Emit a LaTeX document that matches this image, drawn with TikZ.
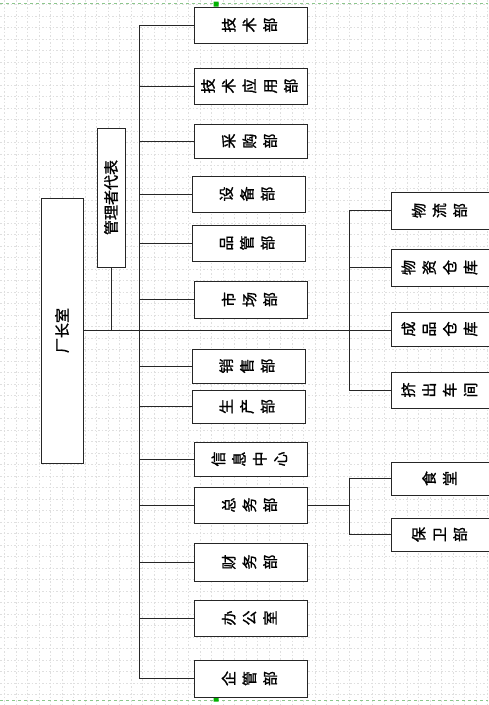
\documentclass[tikz,border=0pt]{standalone}
\usepackage{fontspec}
\newfontfamily\cjk[FakeBold=1.2]{Noto Sans CJK SC}
\usetikzlibrary{positioning}
\newcommand\vchars[1]{\rotatebox{90}{\renewcommand\arraystretch{1.15}\begin{tabular}{@{}c@{}}#1\end{tabular}}}
\newcommand\hchars[1]{\rotatebox{90}{#1}}

\begin{document}
\begin{tikzpicture}[x=1pt,y=1pt,font=\cjk\fontsize{15}{18}\selectfont,
box/.style={draw=black!85,fill=white,line width=0.9pt,inner sep=0pt},
dept/.style={box,minimum width=113,minimum height=#1},
sub/.style={box,minimum width=100,minimum height=#1},
link/.style={line width=0.9pt,black!85},
gridline/.style={gray!25,dash pattern=on 1.5pt off 2pt,line width=0.4pt}]
\useasboundingbox (0,0) rectangle (488,-705);
\fill[white] (0,0) rectangle (488,-705);
% background grid of the drawing sheet
\foreach \g in {0,...,42} \draw[gridline] (4.2+11.5*\g,0) -- (4.2+11.5*\g,-705);
\foreach \g in {0,...,60} \draw[gridline] (0,-4.2-11.5*\g) -- (488,-4.2-11.5*\g);
\draw[green!50!black!45,dashed] (0,-3) -- (488,-3) (0,-700) -- (488,-700);
\fill[green!70!black] (213.5,-1.5) rectangle (218.5,-6.5) (213.5,-696.5) rectangle (218.5,-701.5);
% left
\node[box,minimum width=42,minimum height=265] (changzhang) at (62,-330.5) {\hchars{厂长室}};
\node[box,minimum width=28,minimum height=139] (guanli) at (111,-197.5) {\hchars{管理者代表}};
\coordinate (bus) at (139,0);
\coordinate (bus2) at (349,0);
% departments
\node[dept=36] (jishu) at (251,-25) {\vchars{技\\术\\部}};
\node[dept=36] (jsyy) at (251,-86) {\vchars{技\\术\\应\\用\\部}};
\node[dept=34] (caigou) at (251,-141) {\vchars{采\\购\\部}};
\node[dept=36] (shebei) at (248.5,-194) {\vchars{设\\备\\部}};
\node[dept=36] (pinguan) at (248.5,-243) {\vchars{品\\管\\部}};
\node[dept=37] (shichang) at (251,-299.5) {\vchars{市\\场\\部}};
\node[dept=34] (xiaoshou) at (248.5,-366) {\vchars{销\\售\\部}};
\node[dept=33] (shengchan) at (248.5,-406.5) {\vchars{生\\产\\部}};
\node[dept=34] (xinxi) at (251,-459) {\vchars{信\\息\\中\\心}};
\node[dept=36] (zongwu) at (251,-505) {\vchars{总\\务\\部}};
\node[dept=38] (caiwu) at (251,-562) {\vchars{财\\务\\部}};
\node[dept=36] (bangong) at (251,-618) {\vchars{办\\公\\室}};
\node[dept=37] (qiguan) at (251,-678.5) {\vchars{企\\管\\部}};
% right
\node[sub=37] (wuliu) at (441,-210.5) {\vchars{物\\流\\部}};
\node[sub=37] (wuzi) at (441,-267.5) {\vchars{物\\资\\仓\\库}};
\node[sub=34] (chengpin) at (441,-329) {\vchars{成\\品\\仓\\库}};
\node[sub=36] (jichu) at (441,-390) {\vchars{挤\\出\\车\\间}};
\node[sub=33] (shitang) at (441,-478.5) {\vchars{食\\堂}};
\node[sub=33] (baowei) at (441,-534.5) {\vchars{保\\卫\\部}};
% connectors
\draw[link] (changzhang.east) -- (changzhang.east -| chengpin.west);
\draw[link] (guanli.south) -- (guanli.south |- changzhang.east);
\draw[link] (jishu.west -| bus) -- (qiguan.west -| bus);
\foreach \n in {jishu,jsyy,caigou,shebei,pinguan,shichang,xiaoshou,shengchan,xinxi,zongwu,caiwu,bangong,qiguan}
  \draw[link] (\n.west -| bus) -- (\n.west);
\draw[link] (wuliu.west -| bus2) -- (jichu.west -| bus2);
\foreach \n in {wuliu,wuzi,jichu} \draw[link] (\n.west -| bus2) -- (\n.west);
\draw[link] (zongwu.east) -- (zongwu.east -| bus2);
\draw[link] (shitang.west -| bus2) -- (baowei.west -| bus2);
\foreach \n in {shitang,baowei} \draw[link] (\n.west -| bus2) -- (\n.west);
\end{tikzpicture}
\end{document}
